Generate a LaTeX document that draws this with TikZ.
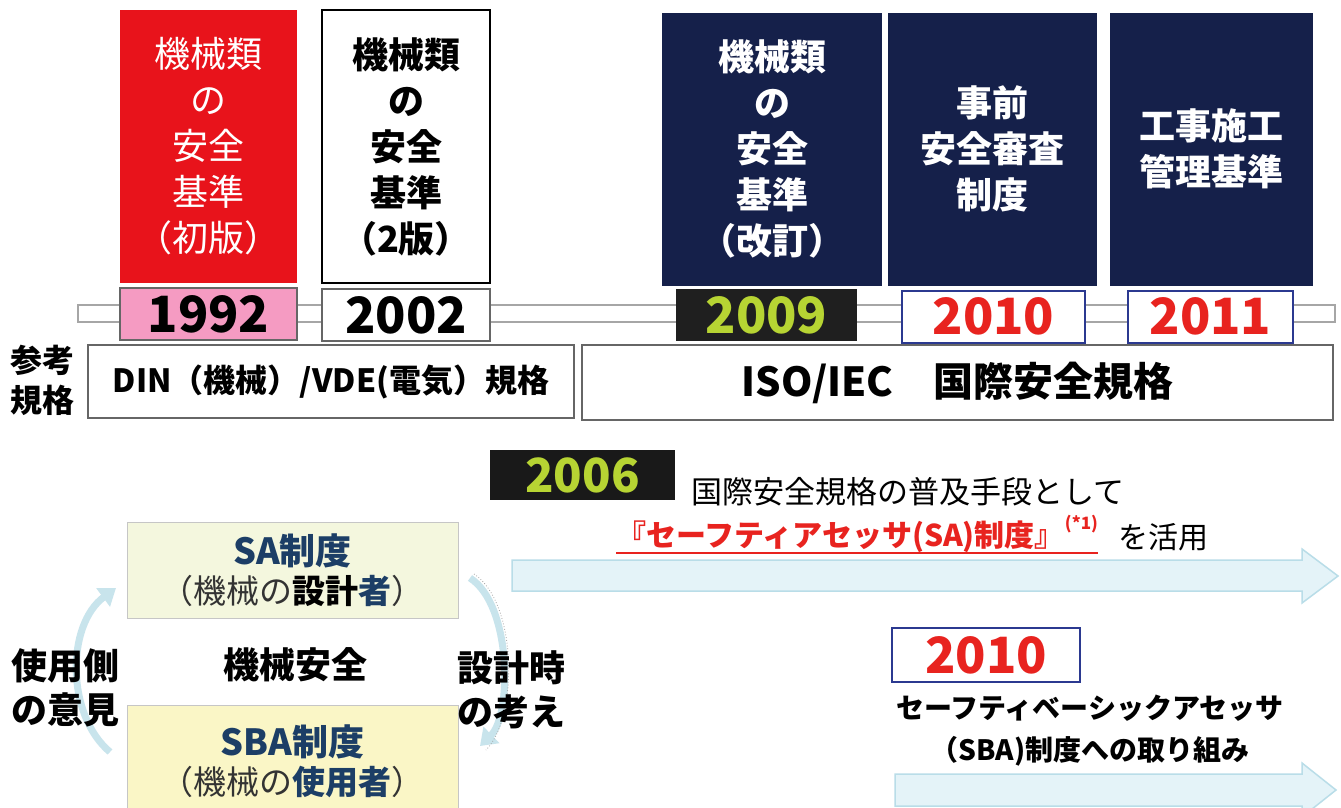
\documentclass[tikz,border=0pt]{standalone}
\usepackage{fontspec}
\setmainfont{Noto Sans CJK JP}
\usetikzlibrary{arrows.meta}
\definecolor{redbox}{HTML}{E8131B}
\definecolor{navy}{HTML}{15204A}
\definecolor{pinkbox}{HTML}{F59BC2}
\definecolor{lime}{HTML}{B7D433}
\definecolor{yred}{HTML}{E8231F}
\definecolor{yblue}{HTML}{2B3990}
\definecolor{satext}{HTML}{1C3E66}
\definecolor{safill}{HTML}{F4F7DE}
\definecolor{sbafill}{HTML}{FAF6C6}
\definecolor{arrowfill}{HTML}{E4F3F8}
\definecolor{arrowdraw}{HTML}{B9DDE8}
\definecolor{cyc}{HTML}{C8E4EC}
\tikzset{
  topbox/.style={minimum height=273, inner sep=0, align=center, font=\fontsize{36}{46}\selectfont},
  navybox/.style={topbox, fill=navy, text=white, font=\bfseries\fontsize{36}{46}\selectfont},
  yearbox/.style={minimum height=52, inner sep=0, font=\bfseries\fontsize{50}{50}\selectfont},
  refbox/.style={draw=gray!80!black, line width=1.2, fill=white, inner sep=0, font=\bfseries},
  cycbox/.style={draw=gray!45, line width=1, inner sep=0, align=center},
  bigarrow/.style={fill=arrowfill, draw=arrowdraw, line width=1.5},
  cycarrow/.style={draw=cyc, line width=7, -{Triangle[length=16,width=22]}},
  lbl/.style={inner sep=0, align=center, font=\bfseries\fontsize{36}{44}\selectfont}
}
\begin{document}
\begin{tikzpicture}[x=1pt,y=-1pt]
\useasboundingbox (0,0) rectangle (1341,807);
\clip (0,0) rectangle (1341,807);
\fill[white] (0,0) rectangle (1341,807);
% timeline bar
\draw[gray!70, line width=1.5, fill=white] (78,305) rectangle (1335,322);
% top boxes
\node[topbox, fill=redbox, text=white, minimum width=177] (b1) at (208.5,146.5) {機械類\\の\\安全\\基準\\（初版）};
\node[topbox, draw=black, line width=1.2, fill=white, minimum width=168, font=\bfseries\fontsize{36}{46}\selectfont] (b2) at (406,146.5) {機械類\\の\\安全\\基準\\（2版）};
\node[navybox, minimum width=220] (b3) at (772,149) {機械類\\の\\安全\\基準\\（改訂）};
\node[navybox, minimum width=209] (b4) at (992.5,149) {事前\\安全審査\\制度};
\node[navybox, minimum width=203] (b5) at (1211.5,149) {工事施工\\管理基準};
% years
\node[yearbox, fill=pinkbox, draw=gray!80!black, line width=1.2, minimum width=177] (y1) at (208.5,314) {1992};
\node[yearbox, fill=white, draw=gray!80!black, line width=1.2, minimum width=168] (y2) at (406,315) {2002};
\node[yearbox, fill=black!88, text=lime, minimum width=181] (y3) at (766.5,315) {2009};
\node[yearbox, fill=white, draw=yblue, line width=2, text=yred, minimum width=183] (y4) at (993.5,316.5) {2010};
\node[yearbox, fill=white, draw=yblue, line width=2, text=yred, minimum width=165] (y5) at (1210.5,316.5) {2011};
% reference standards
\node[lbl, font=\bfseries\fontsize{32}{40}\selectfont] (ref) at (42,380) {参考\\規格};
\node[refbox, minimum width=486, minimum height=73, font=\bfseries\fontsize{32}{32}\selectfont] (din) at (331,381.5) {DIN（機械）/VDE(電気）規格};
\node[refbox, minimum width=751, minimum height=75, font=\bfseries\fontsize{40}{40}\selectfont] (iso) at (957.5,382.5) {ISO/IEC\hspace{1em}国際安全規格};
% 2006
\node[yearbox, fill=black!90, text=lime, minimum width=185, minimum height=50, font=\bfseries\fontsize{47}{47}\selectfont] (y6) at (582.5,475) {2006};
\node[inner sep=0, anchor=west, font=\fontsize{31}{31}\selectfont] (t1) at (691,492) {国際安全規格の普及手段として};
\node[inner sep=0, anchor=west, text=yred, font=\bfseries\fontsize{30}{30}\selectfont] (t2) at (616,534) {『セーフティアセッサ(SA)制度』\raisebox{0.55em}{\fontsize{17}{17}\selectfont(*1)}};
\draw[yred, line width=2] (t2.south west) -- (t2.south east);
\node[inner sep=0, anchor=west, font=\fontsize{30}{30}\selectfont] (t3) at (1118,537) {を活用};
% upper arrow
\draw[bigarrow] (512,560) -- (1302,560) -- (1302,549) -- (1338,576) -- (1302,603) -- (1302,591) -- (512,591) -- cycle;
% cycle
\coordinate (l1) at (110,752);
\coordinate (l2) at (116,588);
\coordinate (r1) at (470,578);
\coordinate (r2) at (480,746);
\draw[cycarrow] (l1) .. controls (66,715) and (66,625) .. (l2);
\draw[cycarrow] (r1) .. controls (512,605) and (512,715) .. (r2);
\draw[gray!70, line width=0.8, dotted] (474,574) .. controls (518,603) and (518,718) .. (486,750);
\node[cycbox, fill=safill, minimum width=331, minimum height=96] (sa) at (292.5,570) {%
  {\bfseries\color{satext}\fontsize{36}{36}\selectfont SA制度}\\[6pt]
  {\fontsize{33}{33}\selectfont\color{black!80}（機械の{\bfseries\color{black}設計}{\bfseries\color{satext}者}）}};
\node[cycbox, fill=sbafill, minimum width=331, minimum height=112] (sba) at (292.5,761) {%
  {\bfseries\color{satext}\fontsize{36}{36}\selectfont SBA制度}\\[6pt]
  {\fontsize{33}{33}\selectfont\color{black!80}（機械の{\bfseries\color{satext}使用者}）}};
\node[lbl] (ms) at (295,665) {機械安全};
\node[lbl] (user) at (66,688) {使用側\\の意見};
\node[lbl] (des) at (511,690) {設計時\\の考え};
% 2010 SBA
\node[yearbox, fill=white, draw=yblue, line width=2, text=yred, minimum width=188, minimum height=54] (y7) at (986,655) {2010};
\node[lbl, font=\bfseries\fontsize{28}{42}\selectfont] (t4) at (1090,731) {セーフティベーシックアセッサ\\（SBA)制度への取り組み};
% lower arrow
\draw[bigarrow] (895,774) -- (1302,774) -- (1302,763) -- (1336,790) -- (1302,817) -- (1302,806) -- (895,806) -- cycle;
\end{tikzpicture}
\end{document}
